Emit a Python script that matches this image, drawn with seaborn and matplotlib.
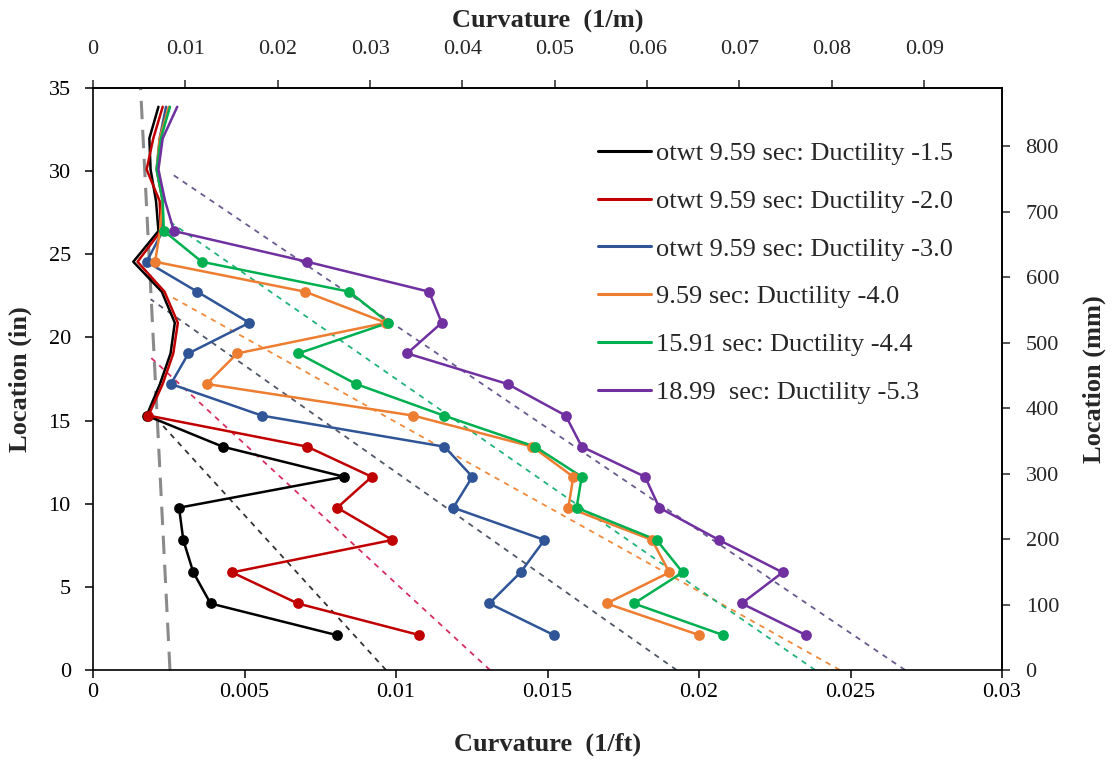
import matplotlib
matplotlib.use("Agg")
import matplotlib.pyplot as plt
from matplotlib.lines import Line2D
import seaborn as sns
import pandas as pd

sns.set_style("ticks")
plt.rcParams['font.family'] = ['Liberation Serif', 'DejaVu Serif']

# Location of each reading (in)
location = [2.1, 4.0, 5.87, 7.82, 9.76, 11.62, 13.43, 15.3, 17.2, 19.04,
            20.88, 22.75, 24.55, 26.4, 28.2, 30.1, 31.97, 33.87]

# Curvature (1/ft) per series
black = [0.00804, 0.00388, 0.00331, 0.00298, 0.00284, 0.00829, 0.00428, 0.00177, 0.00221,
         0.00256, 0.0027, 0.00227, 0.00133, 0.00216, 0.00208, 0.0019, 0.00186, 0.00216]
red = [0.01077, 0.00676, 0.00459, 0.00988, 0.00806, 0.0092, 0.00707, 0.00183, 0.0023,
       0.00265, 0.0028, 0.00236, 0.00147, 0.00224, 0.0022, 0.00177, 0.00199, 0.0023]
blue = [0.01521, 0.01308, 0.01411, 0.0149, 0.01189, 0.01252, 0.0116, 0.00557, 0.00257,
        0.00315, 0.00516, 0.00344, 0.00177, 0.0023, 0.0023, 0.0021, 0.0022, 0.00241]
orange = [0.02001, 0.01695, 0.01902, 0.01845, 0.01569, 0.01585, 0.0145, 0.01057, 0.00375,
          0.00476, 0.00967, 0.007, 0.00205, 0.00221, 0.0023, 0.0021, 0.0022, 0.0025]
green = [0.0208, 0.01785, 0.01946, 0.0186, 0.01596, 0.01613, 0.01459, 0.01158, 0.00868,
         0.00678, 0.00975, 0.00846, 0.00359, 0.00234, 0.0023, 0.0021, 0.00224, 0.00254]
purple = [0.02353, 0.02141, 0.02276, 0.02066, 0.01869, 0.01822, 0.01613, 0.0156, 0.01368,
          0.01037, 0.01151, 0.01109, 0.00707, 0.00267, 0.00238, 0.00216, 0.0023, 0.00278]

labels = ["otwt 9.59 sec: Ductility -1.5", "otwt 9.59 sec: Ductility -2.0",
          "otwt 9.59 sec: Ductility -3.0", "9.59 sec: Ductility -4.0",
          "15.91 sec: Ductility -4.4", "18.99  sec: Ductility -5.3"]
series = [black, red, blue, orange, green, purple]
n_marked = [8, 8, 13, 13, 14, 14]
colors = ["#000000", "#c00000", "#2f5597", "#ed7d31", "#00b050", "#7030a0"]

# dashed trend lines: (curvature at top, location at top, curvature at base)
fit_curv_top = [0.00205, 0.0019, 0.0019, 0.00253, 0.0025, 0.00265]
fit_loc_top = [15.2, 18.8, 22.3, 22.5, 27.0, 29.77]
fit_curv_base = [0.00967, 0.0131, 0.01926, 0.02465, 0.02383, 0.0268]
fit_colors = ["#333333", "#d62f5f", "#505868", "#f08a3c", "#22b37a", "#6a5a90"]

# long dashed grey reference
ref_curv = [0.00254, 0.00157]
ref_loc = [0, 35]

fig = plt.figure(figsize=(11.13, 7.59), dpi=100)
ax = fig.add_axes([93 / 1113, 1 - 670 / 759, 909 / 1113, 582 / 759])

ax.plot(ref_curv, ref_loc, color="#8a8a8a", lw=2.2, dashes=(6, 3.5), zorder=1)
for ct, lt, cb, c in zip(fit_curv_top, fit_loc_top, fit_curv_base, fit_colors):
    ax.plot([cb, ct], [0, lt], color=c, lw=1.3, dashes=(3, 3), zorder=1)

for vals, lab, nm, c in zip(series, labels, n_marked, colors):
    df = pd.DataFrame({"curv": vals, "loc": location})
    sns.lineplot(data=df, x="curv", y="loc", sort=False, estimator=None,
                 color=c, lw=1.8, ax=ax, zorder=3)
    sns.scatterplot(data=df.iloc[:nm], x="curv", y="loc", color=c, s=60,
                    edgecolor=c, linewidth=0, ax=ax, zorder=4)

ax.set_xlim(0, 0.03)
ax.set_ylim(0, 35)
ax.set_xticks([0, 0.005, 0.01, 0.015, 0.02, 0.025, 0.03])
ax.set_xticklabels(["0", "0.005", "0.01", "0.015", "0.02", "0.025", "0.03"])
ax.set_yticks(range(0, 36, 5))
ax.set_xlabel("Curvature  (1/ft)", fontsize=19, fontweight="bold", labelpad=22)
ax.set_ylabel("Location (in)", fontsize=19, fontweight="bold", labelpad=12)
ax.tick_params(direction="out", length=6, width=1.1, labelsize=16, colors="black")
ax.tick_params(axis="y", pad=10)

top = ax.secondary_xaxis("top", functions=(lambda x: x * 3.28084, lambda x: x / 3.28084))
top.set_xticks([0, 0.01, 0.02, 0.03, 0.04, 0.05, 0.06, 0.07, 0.08, 0.09])
top.set_xticklabels(["0", "0.01", "0.02", "0.03", "0.04", "0.05", "0.06", "0.07", "0.08", "0.09"])
top.set_xlabel("Curvature  (1/m)", fontsize=19, fontweight="bold", labelpad=9)
top.tick_params(direction="out", length=6, width=1.1, labelsize=16, pad=15)

right = ax.secondary_yaxis("right", functions=(lambda y: y * 25.4, lambda y: y / 25.4))
right.set_yticks(range(0, 801, 100))
right.set_ylabel("Location (mm)", fontsize=19, fontweight="bold", labelpad=17)
right.tick_params(direction="out", length=6, width=1.1, labelsize=16, pad=11)

for a in (ax, top, right):
    for s in a.spines.values():
        s.set_linewidth(1.2)
        s.set_color("black")

handles = [Line2D([], [], color=c, lw=2.2) for c in colors]
ax.legend(handles, labels, loc="upper left", bbox_to_anchor=(574 / 1113, 1 - 118 / 759),
          bbox_transform=fig.transFigure, frameon=False, fontsize=19,
          handlelength=2.0, handletextpad=0.2, labelspacing=0.92)

plt.savefig("out.png", dpi=100)
plt.close()
